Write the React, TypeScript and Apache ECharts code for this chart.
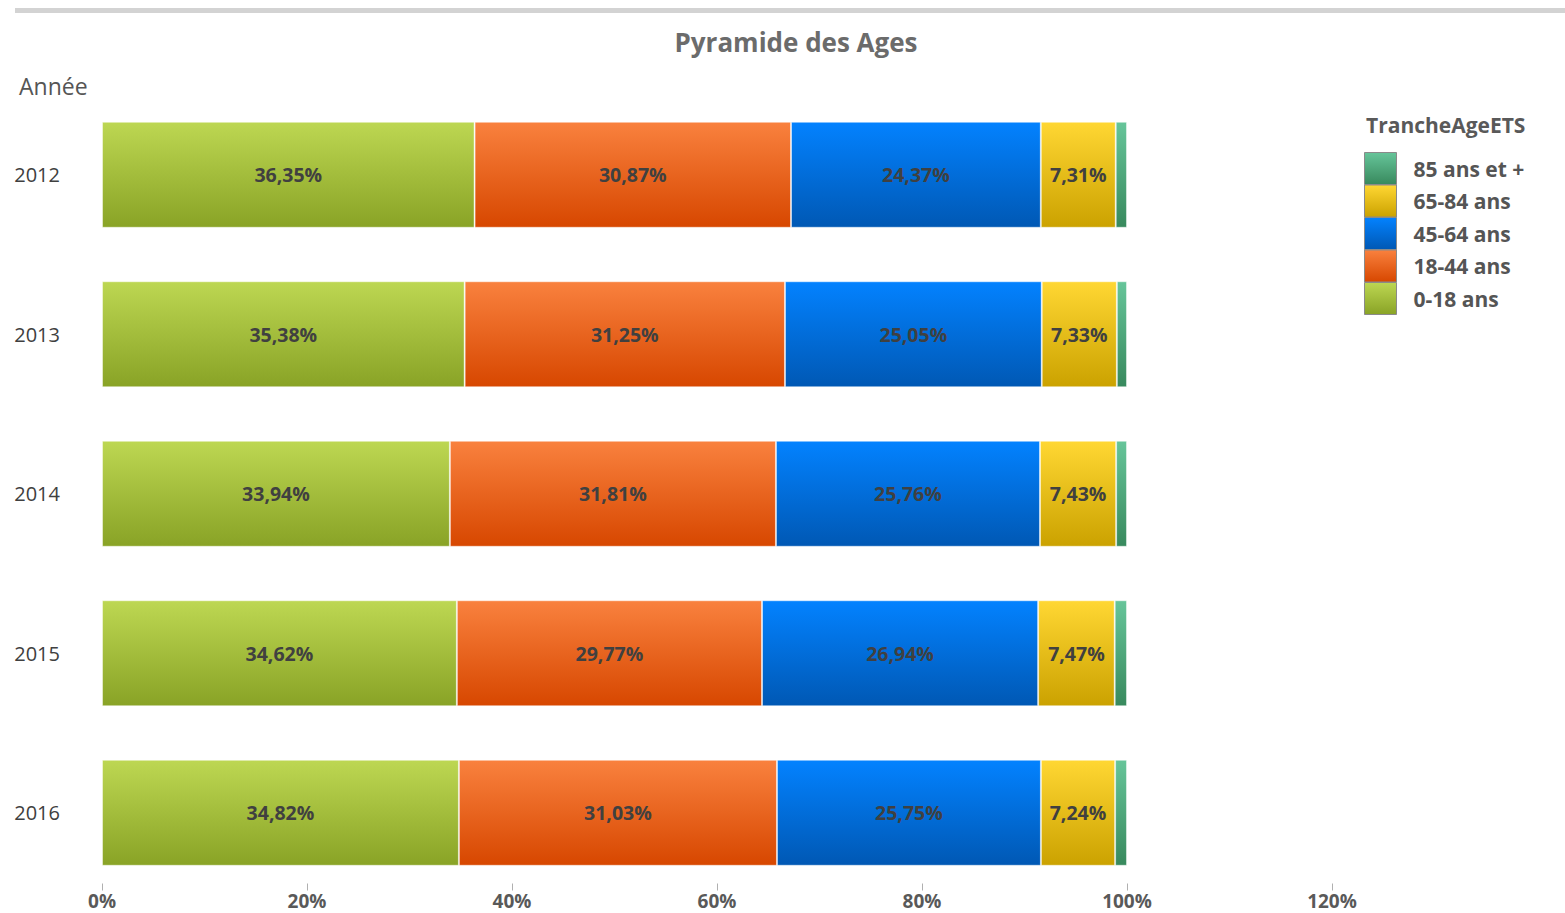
import React, { useEffect, useRef } from "react";
import * as echarts from "echarts";

const years = ["2012", "2013", "2014", "2015", "2016"];
const seriesNames = ["0-18 ans", "18-44 ans", "45-64 ans", "65-84 ans", "85 ans et +"];
const age0_18 = [36.35, 35.38, 33.94, 34.62, 34.82];
const age18_44 = [30.87, 31.25, 31.81, 29.77, 31.03];
const age45_64 = [24.37, 25.05, 25.76, 26.94, 25.75];
const age65_84 = [7.31, 7.33, 7.43, 7.47, 7.24];
const age85plus = [1.1, 0.99, 1.06, 1.2, 1.16];
const xTicks = [0, 20, 40, 60, 80, 100, 120];

const gradients: [string, string][] = [
  ["#bdd752", "#89a326"],
  ["#f9813e", "#d74700"],
  ["#0382ff", "#0058b4"],
  ["#ffd733", "#cba200"],
  ["#66c59a", "#38895d"],
];

const FONT = "'Open Sans', 'Noto Sans', sans-serif";

export default function App() {
  const ref = useRef<HTMLDivElement>(null);
  useEffect(() => {
    if (!ref.current) return;
    const chart = echarts.init(ref.current, undefined, { renderer: "svg" });
    const values = [age0_18, age18_44, age45_64, age65_84, age85plus];
    const series = seriesNames.map((name, i) => ({
      name,
      type: "bar",
      stack: "total",
      barWidth: 106,
      data: values[i],
      itemStyle: {
        color: new echarts.graphic.LinearGradient(0, 0, 0, 1, [
          { offset: 0, color: gradients[i][0] },
          { offset: 1, color: gradients[i][1] },
        ]),
        borderColor: "rgba(255,255,255,0.45)",
        borderWidth: 1,
      },
      label: {
        show: i < 4,
        position: "inside",
        color: "#404040",
        fontFamily: FONT,
        fontWeight: "bold",
        fontSize: 19.5,
        formatter: (p: any) => p.value.toFixed(2).replace(".", ",") + "%",
      },
    }));
    chart.setOption({
      animation: false,
      backgroundColor: "#ffffff",
      title: {
        text: "Pyramide des Ages",
        left: 791,
        top: 24,
        textAlign: "center",
        textStyle: { color: "#6b6b6b", fontFamily: FONT, fontWeight: "bold", fontSize: 26 },
      },
      graphic: [
        { type: "rect", shape: { x: 15, y: 8, width: 1550, height: 5 }, style: { fill: "#d3d3d3" } },
        {
          type: "text",
          x: 19,
          y: 74,
          style: { text: "Année", fill: "#555555", font: `23px ${FONT}` },
        },
        {
          type: "text",
          x: 1366,
          y: 114,
          style: { text: "TrancheAgeETS", fill: "#595959", font: `bold 21px ${FONT}` },
        },
      ],
      legend: {
        orient: "vertical",
        left: 1359,
        top: 147,
        itemWidth: 32,
        itemHeight: 32,
        itemGap: -0.5,
        icon: "rect",
        data: [...seriesNames].reverse(),
        itemStyle: { borderColor: "#8a8a8a", borderWidth: 1 },
        textStyle: { color: "#555555", fontFamily: FONT, fontWeight: "bold", fontSize: 21, padding: [0, 0, 0, 12] },
      },
      grid: { left: 102, right: 233, top: 95, bottom: 20.5, containLabel: false },
      xAxis: {
        type: "value",
        min: 0,
        max: 120,
        interval: 20,
        offset: -9,
        axisLine: { show: false },
        axisTick: { show: true, length: 7, lineStyle: { color: "#b0b0b0" } },
        splitLine: { show: false },
        axisLabel: {
          margin: 8,
          color: "#595959",
          fontFamily: FONT,
          fontWeight: "bold",
          fontSize: 19,
          formatter: (v: number) => (xTicks.includes(v) ? v + "%" : ""),
        },
      },
      yAxis: {
        type: "category",
        data: years,
        inverse: true,
        axisLine: { show: false },
        axisTick: { show: false },
        axisLabel: { margin: 42, color: "#404040", fontFamily: FONT, fontSize: 20 },
      },
      series,
    });
    return () => chart.dispose();
  }, []);
  return (
    <div
      ref={ref}
      style={{ position: "absolute", left: 0, top: 0, width: 1565, height: 913 }}
    />
  );
}
